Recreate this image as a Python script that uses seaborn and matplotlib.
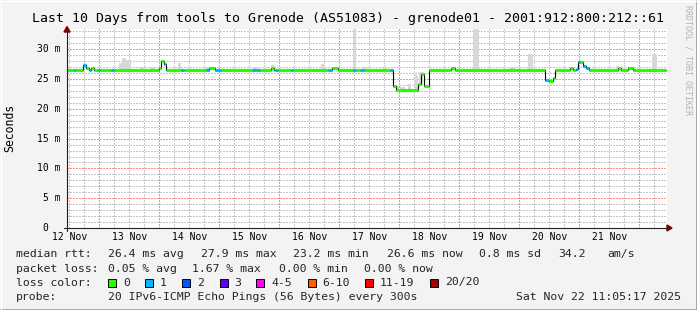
import matplotlib
matplotlib.use("Agg")
import matplotlib.pyplot as plt
from matplotlib.lines import Line2D
from matplotlib.patches import Polygon, Rectangle
import matplotlib.transforms as mtrans
import numpy as np
import pandas as pd
import seaborn as sns

# ---------------- data ----------------
title = "Last 10 Days from tools to Grenode (AS51083) - grenode01 - 2001:912:800:212::61"
day_labels = ["12 Nov", "13 Nov", "14 Nov", "15 Nov", "16 Nov",
              "17 Nov", "18 Nov", "19 Nov", "20 Nov", "21 Nov"]
# time axis in hours since window start (Nov 12 11:05)
window_h = 240.0
first_noon_h = 0.917
first_midnight_h = 12.917

# median rtt (ms) as step change points, with loss class index per step
med_t = [0, 2.8, 3.6, 6.4, 7.6, 8.8, 9.6, 10.8, 12.4, 13.2, 17.6, 18.8,
         36.8, 37.4, 38.8, 39.6, 45.6, 46.8, 55.6, 56.8, 59.2, 61.6,
         74.0, 75.6, 76.0, 77.2, 81.6, 82.8, 83.2, 84.4, 89.6, 90.4,
         104.4, 106.0, 108.4, 114.4, 115.6, 117.2, 118.8,
         129.2, 130.4, 131.6, 140.4, 141.6, 142.8, 144.8, 153.6, 155.2,
         191.2, 192.8, 194.4, 195.2, 201.2, 202.4, 203.6, 204.4, 205.2,
         206.4, 207.6, 208.8, 220.4, 221.6, 224.4, 226.4]
med_ms = [26.5, 26.5, 26.5, 27.35, 26.8, 26.5, 26.8, 26.5, 26.5, 26.5, 26.5, 26.5,
          26.8, 28.0, 27.6, 26.5, 26.5, 26.5, 26.5, 26.8, 26.5, 26.5,
          26.5, 26.5, 26.5, 26.5, 26.8, 26.5, 26.5, 26.5, 26.5, 26.5,
          26.5, 26.8, 26.5, 26.5, 26.5, 26.5, 26.5,
          26.6, 23.75, 23.15, 24.1, 25.8, 23.9, 26.6, 26.8, 26.6,
          24.8, 24.7, 25.1, 26.6, 26.8, 26.6, 26.7, 27.9, 27.9,
          27.2, 26.8, 26.6, 26.8, 26.6, 26.8, 26.6]
med_loss = [0, 1, 0, 1, 0, 1, 0, 0, 1, 0, 1, 0,
            0, 0, 1, 0, 1, 0, 1, 0, 1, 0,
            1, 0, 1, 0, 0, 0, 1, 0, 1, 0,
            1, 0, 0, 1, 0, 1, 0,
            1, 0, 0, 0, 0, 0, 0, 0, 0,
            1, 0, 0, 0, 0, 0, 1, 1, 0,
            1, 1, 0, 0, 0, 0, 0]
med_end_t = 239.6

# smoke (ping spread) visible around the median
smoke_t0 = [20.8, 22.0, 23.6, 29.2, 33.2, 44.4, 55.2, 74.4, 81.6, 101.6, 114.4, 118.4,
            126.4, 132.0, 133.2, 136.4, 139.2, 140.8, 162.4, 177.2, 184.4, 219.6, 234.0]
smoke_t1 = [22.0, 23.6, 25.6, 31.2, 35.2, 45.6, 57.2, 76.4, 82.8, 102.8, 115.6, 120.0,
            128.0, 132.8, 135.2, 137.6, 140.4, 142.4, 164.8, 179.2, 186.4, 220.8, 236.0]
smoke_lo = [26.2, 26.2, 26.2, 26.2, 26.2, 26.2, 26.2, 26.2, 26.2, 26.2, 26.2, 26.2,
            26.2, 23.0, 23.0, 23.0, 23.0, 23.8, 26.2, 26.2, 26.2, 26.2, 26.2]
smoke_hi = [27.7, 28.5, 28.2, 27.0, 27.0, 27.7, 27.1, 27.1, 27.3, 27.5, 34.0, 27.1,
            26.9, 24.0, 23.7, 24.2, 25.7, 26.2, 34.0, 26.9, 29.2, 27.2, 29.2]

y_max = 33.4
y_ticks = [0, 5, 10, 15, 20, 25, 30]
y_tick_labels = ["0", "5 m", "10 m", "15 m", "20 m", "25 m", "30 m"]

loss_labels = ["0", "1", "2", "3", "4-5", "6-10", "11-19", "20/20"]
loss_colors = ["#26ff00", "#00b8ff", "#0059ff", "#5e00ff", "#ff00ff",
               "#ff5e00", "#ff0000", "#a10000"]

rtt_stats = ["26.4 ms avg", "27.9 ms max", "23.2 ms min", "26.6 ms now",
             "0.8 ms sd", "34.2", "am/s"]
loss_stats = ["0.05 % avg", "1.67 % max", "0.00 % min", "0.00 % now"]
probe_text = "20 IPv6-ICMP Echo Pings (56 Bytes) every 300s"
stamp_text = "Sat Nov 22 11:05:17 2025"

# ---------------- layout ----------------
W, H = 697, 310
sns.set_theme(style="white")
plt.rcParams["font.family"] = ["DejaVu Sans Mono", "DejaVu Sans"]

fig = plt.figure(figsize=(W / 100, H / 100), dpi=100, facecolor="#f3f3f3")
PL, PR, PT, PB = 67, 667, 29, 228
ax = fig.add_axes([PL / W, 1 - PB / H, (PR - PL) / W, (PB - PT) / H])
ax.set_facecolor("white")
for s in ax.spines.values():
    s.set_visible(False)


def fx(x):
    return x / W


def fy(y):
    return 1 - y / H


# grid
minor_col = "#c6c6c6"
major_col = "#ff8a8a"
dot = (0, (1.4, 1.4))
for v in range(1, int(y_max) + 1):
    col = major_col if v % 5 == 0 else minor_col
    ax.axhline(v, color=col, lw=0.72, ls=dot, zorder=0.5, antialiased=False)
g = first_noon_h % 6
while g < window_h:
    k = (g - first_midnight_h) / 24
    is_mid = abs(k - round(k)) < 1e-6
    ax.axvline(g, color=major_col if is_mid else minor_col, lw=0.72, ls=dot,
               zorder=0.5, antialiased=False)
    g += 6

# smoke
ax.bar(smoke_t0, np.array(smoke_hi) - np.array(smoke_lo),
       width=np.array(smoke_t1) - np.array(smoke_t0), bottom=smoke_lo,
       align="edge", color="#d8d8d8", linewidth=0, zorder=1)

# median black step line
df = pd.DataFrame({"t": med_t + [med_end_t], "ms": med_ms + [med_ms[-1]]})
sns.lineplot(data=df, x="t", y="ms", drawstyle="steps-post", color="#000000",
             linewidth=0.8, ax=ax, zorder=2, estimator=None)

# loss-coloured bands
ends = med_t[1:] + [med_end_t]
for t0, t1, v, li in zip(med_t, ends, med_ms, med_loss):
    ax.hlines(v, t0, t1, color=loss_colors[li], lw=2.3, zorder=3, capstyle="butt")

ax.set_xlim(0, window_h)
ax.set_ylim(0, y_max)
ax.set_xlabel("")
ax.set_ylabel("")

# x ticks (labels at noon)
noons = [first_noon_h + 24 * i for i in range(len(day_labels))]
ax.set_xticks(noons, day_labels)
ax.tick_params(axis="x", length=0, pad=3.2, labelsize=7, colors="#000000")
ax.set_yticks(y_ticks, [""] * len(y_ticks))
ax.tick_params(axis="y", length=2, width=0.7, color="#555555", direction="out", pad=1)

# y tick labels
trans = mtrans.blended_transform_factory(fig.transFigure, ax.transData)
for v, lab in zip(y_ticks, y_tick_labels):
    xr = 60.5 if " m" in lab else 48
    ax.text(fx(xr), v, lab, transform=trans, ha="right", va="center",
            fontsize=7, color="#000000", clip_on=False)

# axes lines + arrows
axis_col = "#222222"
arrow_col = "#7f0000"
fig.add_artist(Line2D([fx(64), fx(668)], [fy(PB), fy(PB)], color=axis_col, lw=0.8,
                      transform=fig.transFigure))
fig.add_artist(Line2D([fx(PL), fx(PL)], [fy(231), fy(31)], color=axis_col, lw=0.8,
                      transform=fig.transFigure))
fig.add_artist(Polygon([(fx(667), fy(PB - 3)), (fx(672), fy(PB)), (fx(667), fy(PB + 3))],
                       closed=True, color=arrow_col, transform=fig.transFigure))
fig.add_artist(Polygon([(fx(PL - 3), fy(32)), (fx(PL), fy(26.5)), (fx(PL + 3), fy(32))],
                       closed=True, color=arrow_col, transform=fig.transFigure))

# texts
fig.text(fx(347.5), fy(18.5), title, ha="center", va="center", fontsize=9.5, color="#000000")
fig.text(fx(10), fy(128), "Seconds", rotation=90, ha="center", va="center",
         fontsize=8.3, color="#000000")
fig.text(fx(688), fy(60), "RRDTOOL / TOBI OETIKER", rotation=270, ha="center",
         va="center", fontsize=6, color="#b4b4b4")

LF = 8.25
rows_y = [254, 268.5, 282.5, 296.5]
fig.text(fx(16), fy(rows_y[0]), "median rtt:", ha="left", va="center", fontsize=LF)
for xx, s in zip([107.5, 201, 293, 387, 479, 558, 607], rtt_stats):
    fig.text(fx(xx), fy(rows_y[0]), s, ha="left", va="center", fontsize=LF)
fig.text(fx(16), fy(rows_y[1]), "packet loss:", ha="left", va="center", fontsize=LF)
for xx, s in zip([107.5, 192, 279, 364], loss_stats):
    fig.text(fx(xx), fy(rows_y[1]), s, ha="left", va="center", fontsize=LF)
fig.text(fx(16), fy(rows_y[2]), "loss color:", ha="left", va="center", fontsize=LF)
box_x = [108, 145, 182, 219.5, 256, 307.5, 365, 430]
for bx, lab, col in zip(box_x, loss_labels, loss_colors):
    fig.add_artist(Rectangle((fx(bx), fy(rows_y[2] + 4)), 8 / W, 8 / H, facecolor=col,
                             edgecolor="#000000", lw=0.7, transform=fig.transFigure))
    fig.text(fx(bx + 15), fy(rows_y[2]), lab, ha="left", va="center", fontsize=LF)
fig.text(fx(16), fy(rows_y[3]), "probe:", ha="left", va="center", fontsize=LF)
fig.text(fx(107.5), fy(rows_y[3]), probe_text, ha="left", va="center", fontsize=LF)
fig.text(fx(680.5), fy(rows_y[3]), stamp_text, ha="right", va="center", fontsize=LF)

# frame
fig.add_artist(Line2D([0, 1], [fy(309.5), fy(309.5)], color="#9a9a9a", lw=1.2,
                      transform=fig.transFigure))
fig.add_artist(Line2D([fx(696.5), fx(696.5)], [0, 1], color="#9a9a9a", lw=1.2,
                      transform=fig.transFigure))
fig.add_artist(Line2D([0, 1], [fy(0.5), fy(0.5)], color="#ffffff", lw=1,
                      transform=fig.transFigure))
fig.add_artist(Line2D([fx(0.5), fx(0.5)], [0, 1], color="#ffffff", lw=1,
                      transform=fig.transFigure))

fig.savefig("out.png", dpi=100, facecolor=fig.get_facecolor())
